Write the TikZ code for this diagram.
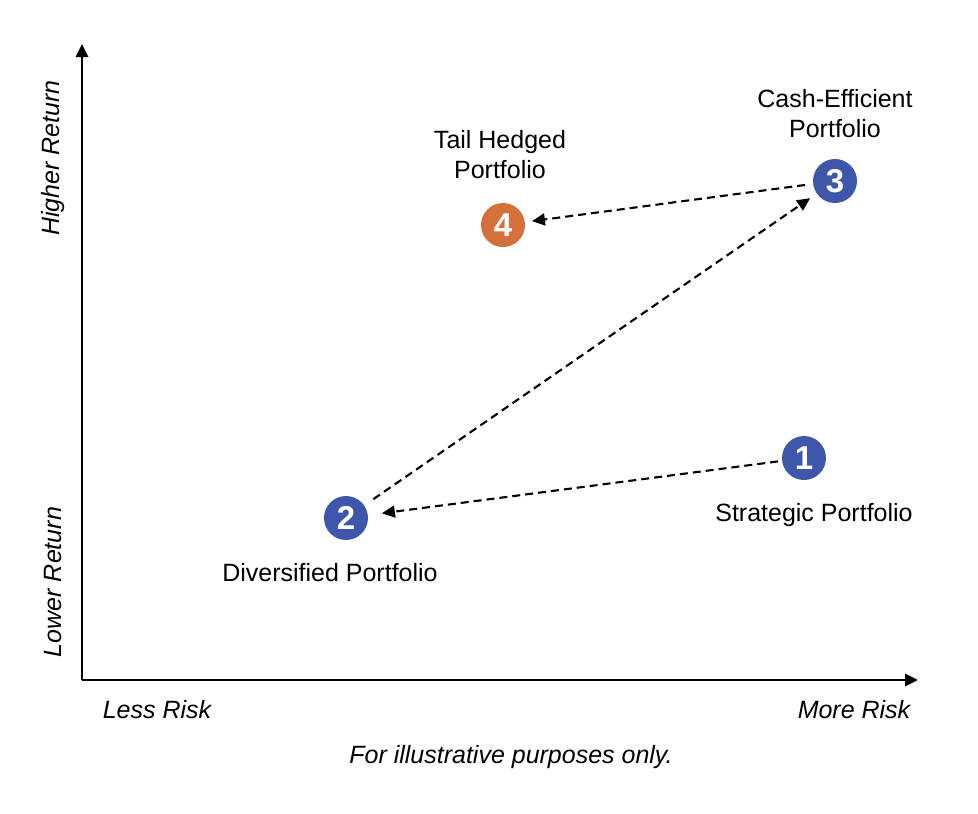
\documentclass[tikz,border=0pt]{standalone}
\usepackage{fontspec}
\setmainfont{Liberation Sans}
\usepackage{tikz}
\usetikzlibrary{arrows.meta}
\usetikzlibrary{positioning}
\definecolor{portBlue}{RGB}{63,87,170}
\definecolor{portOrange}{RGB}{214,112,58}

\begin{document}
\begin{tikzpicture}[x=1pt,y=-1pt,
    portfolio/.style={circle,minimum size=44pt,inner sep=0pt,text=white,font=\fontsize{33}{33}\selectfont\bfseries},
    lbl/.style={inner sep=0pt,align=center,font=\fontsize{25}{30}\selectfont},
    axlbl/.style={inner sep=0pt,font=\fontsize{25}{30}\selectfont\itshape},
    move/.style={-{Triangle[length=13pt,width=12pt]},line width=2.1pt,dash pattern=on 8pt off 5pt}]
      \useasboundingbox (0,0) rectangle (978,814) ;
      % axes
      \coordinate (origin) at (82,680) ;
      \coordinate (yTop) at (82,44) ;
      \coordinate (xEnd) at (918,680) ;
      \draw [-{Triangle[length=13pt,width=12pt]}, line width=2.6pt] (origin) -- (yTop) ;
      \draw [-{Triangle[length=13pt,width=12pt]}, line width=2.6pt] (origin) -- (xEnd) ;
      \node[axlbl,rotate=90] (higherRet) at (53,158) {Higher Return} ;
      \node[axlbl,rotate=90] (lowerRet) at (53,582) {Lower Return} ;
      \node[axlbl,anchor=base] (lessRisk) at (157,718) {Less Risk} ;
      \node[axlbl,anchor=base] (moreRisk) at (854,718) {More Risk} ;
      \node[axlbl,anchor=base] (note) at (511,763) {For illustrative purposes only.} ;
      % portfolios
      \node[portfolio,fill=portBlue] (strategic) at (804,458) {1} ;
      \node[portfolio,fill=portBlue] (diversified) at (346,518) {2} ;
      \node[portfolio,fill=portBlue] (cashEff) at (835,181) {3} ;
      \node[portfolio,fill=portOrange] (tailHedged) at (503,225) {4} ;
      \node[lbl, below=23pt of strategic, xshift=10pt] (strategicLbl) {Strategic Portfolio} ;
      \node[lbl, below=23pt of diversified, xshift=-16pt] (diversifiedLbl) {Diversified Portfolio} ;
      \node[lbl, above=21pt of cashEff] (cashEffLbl) {Cash-Efficient\\Portfolio} ;
      \node[lbl, above=24pt of tailHedged, xshift=-3pt] (tailHedgedLbl) {Tail Hedged\\Portfolio} ;
      % moves
      \draw [move, shorten <=4pt, shorten >=14pt] (strategic) -- (diversified) ;
      \draw [move, shorten <=11pt, shorten >=8pt] (diversified) -- (cashEff) ;
      \draw [move, shorten <=8pt, shorten >=7pt] (cashEff) -- (tailHedged) ;
    \end{tikzpicture}
\end{document}
